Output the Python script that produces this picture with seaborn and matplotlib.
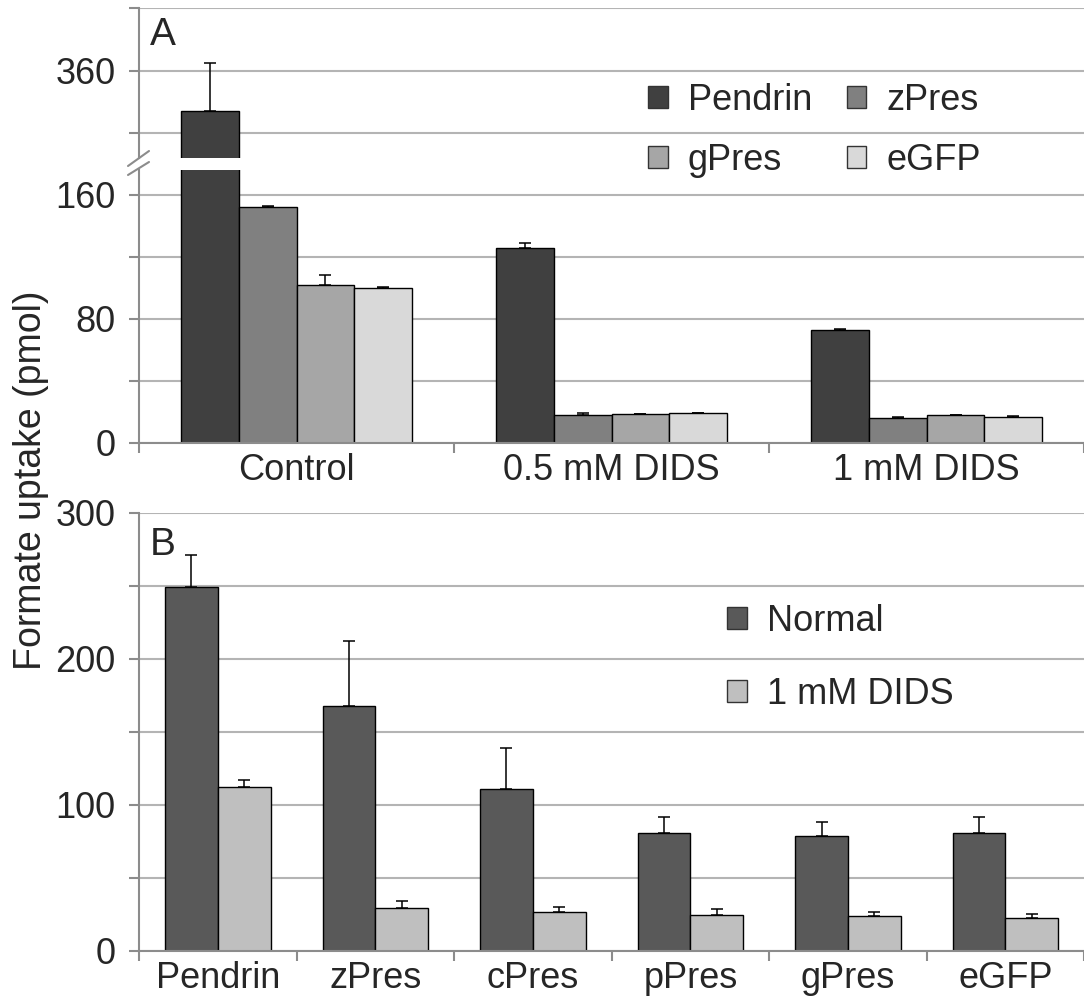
import matplotlib
matplotlib.use('Agg')
import matplotlib.pyplot as plt
from matplotlib.patches import Patch
from matplotlib.lines import Line2D
import pandas as pd
import seaborn as sns

# panel A
conditions_a = ['Control', '0.5 mM DIDS', '1 mM DIDS']
constructs_a = ['Pendrin', 'zPres', 'gPres', 'eGFP']
pendrin_a = [334, 126, 73]
zpres_a = [152, 18.2, 16.3]
gpres_a = [102, 18.7, 17.9]
egfp_a = [100, 19.4, 17.0]
pendrin_a_err = [31, 3, 0.5]
zpres_a_err = [0.8, 1.3, 0.5]
gpres_a_err = [6.5, 0.3, 0.3]
egfp_a_err = [0.5, 0.2, 0.2]

# panel B
constructs_b = ['Pendrin', 'zPres', 'cPres', 'pPres', 'gPres', 'eGFP']
treatments_b = ['Normal', '1 mM DIDS']
normal_b = [249, 168, 111, 81, 79, 81]
normal_b_err = [22, 44, 28, 11, 9.5, 11]
dids_b = [112, 29.5, 26.5, 25, 24, 22.6]
dids_b_err = [5, 5, 3.8, 3.6, 2.5, 2.5]

colors_a = {'Pendrin': '#404040', 'zPres': '#808080', 'gPres': '#a6a6a6', 'eGFP': '#d9d9d9'}
colors_b = {'Normal': '#595959', '1 mM DIDS': '#bfbfbf'}

vals_a = [pendrin_a, zpres_a, gpres_a, egfp_a]
errs_a = [pendrin_a_err, zpres_a_err, gpres_a_err, egfp_a_err]
df_a = pd.DataFrame([(c, k, v[i]) for k, v in zip(constructs_a, vals_a)
                     for i, c in enumerate(conditions_a)],
                    columns=['condition', 'construct', 'value'])
vals_b = [normal_b, dids_b]
errs_b = [normal_b_err, dids_b_err]
df_b = pd.DataFrame([(c, t, v[i]) for t, v in zip(treatments_b, vals_b)
                     for i, c in enumerate(constructs_b)],
                    columns=['construct', 'treatment', 'value'])

sns.set_style('white')
plt.rcParams['font.family'] = ['Liberation Sans', 'DejaVu Sans']
grey = '#8c8c8c'
fs = 26

fig = plt.figure(figsize=(10.84, 10), dpi=100)
ax_top = fig.add_axes([0.1282, 0.842, 0.872, 0.150])
ax_low = fig.add_axes([0.1282, 0.557, 0.872, 0.273])
ax_b = fig.add_axes([0.1282, 0.049, 0.872, 0.438])


def add_errors(ax, errs):
    for cont, err in zip(ax.containers, errs):
        xs = [b.get_x() + b.get_width() / 2 for b in cont]
        ys = [b.get_height() for b in cont]
        ax.errorbar(xs, ys, yerr=[[0] * len(err), err], fmt='none', ecolor='black',
                    elinewidth=1.1, capsize=4, capthick=1.1, zorder=3)


def style(ax):
    ax.set_axisbelow(True)
    ax.grid(axis='y', color='#b4b4b4', linewidth=1.5)
    for s in ['top', 'right']:
        ax.spines[s].set_visible(False)
    for s in ['left', 'bottom']:
        ax.spines[s].set_color(grey)
        ax.spines[s].set_linewidth(1.5)
    ax.tick_params(axis='y', direction='out', length=7, width=1.5, color=grey,
                   labelsize=fs, pad=10, left=True)
    ax.set_xlabel('')
    ax.set_ylabel('')


for ax in (ax_top, ax_low):
    sns.barplot(data=df_a, x='condition', y='value', hue='construct', order=conditions_a,
                hue_order=constructs_a, palette=colors_a, saturation=1, width=0.733,
                edgecolor='black', linewidth=1, legend=False, ax=ax)
    add_errors(ax, errs_a)
    style(ax)
    ax.set_xlim(-0.5, 2.5)

ax_top.set_ylim(304, 400)
ax_top.set_yticks([320, 360, 400], ['', '360', ''])
ax_top.spines['bottom'].set_visible(False)
ax_top.tick_params(axis='x', bottom=False, labelbottom=False)

ax_low.set_ylim(0, 176)
ax_low.set_yticks([0, 40, 80, 120, 160], ['0', '', '80', '', '160'])

sns.barplot(data=df_b, x='construct', y='value', hue='treatment', order=constructs_b,
            hue_order=treatments_b, palette=colors_b, saturation=1, width=0.67,
            edgecolor='black', linewidth=1, legend=False, ax=ax_b)
add_errors(ax_b, errs_b)
style(ax_b)
ax_b.set_xlim(-0.5, 5.5)
ax_b.set_ylim(0, 300)
ax_b.set_yticks([0, 50, 100, 150, 200, 250, 300], ['0', '', '100', '', '200', '', '300'])

for ax, n in ((ax_low, 3), (ax_b, 6)):
    ax.set_xticks([i - 0.5 for i in range(n + 1)], minor=True)
    ax.tick_params(axis='x', which='minor', direction='out', length=7, width=1.5,
                   color=grey, bottom=True)
    ax.tick_params(axis='x', which='major', length=0, labelsize=fs, pad=7)

# break marks on the y axis
for y0, y1 in ((0.834, 0.849), (0.825, 0.838)):
    fig.add_artist(Line2D([128 / 1084, 149 / 1084], [y0, y1], color=grey, linewidth=1.5))

# legend fills by column, so order gives rows Pendrin/zPres and gPres/eGFP
legend_a_order = ['Pendrin', 'gPres', 'zPres', 'eGFP']
fig.legend(handles=[Patch(facecolor=colors_a[k], edgecolor='#333333', label=k) for k in legend_a_order],
           ncol=2, loc='center left', bbox_to_anchor=(0.598, 0.8695), frameon=False,
           fontsize=fs, handlelength=0.55, handleheight=0.55, handletextpad=0.55,
           columnspacing=0.95, labelspacing=0.7, borderpad=0, borderaxespad=0)
fig.legend(handles=[Patch(facecolor=colors_b[k], edgecolor='#333333', label=k) for k in treatments_b],
           loc='center left', bbox_to_anchor=(0.671, 0.342), frameon=False,
           fontsize=fs, handlelength=0.55, handleheight=0.55, handletextpad=0.55,
           labelspacing=1.05, borderpad=0, borderaxespad=0)

fig.text(150 / 1084, 1 - 17 / 1000, 'A', fontsize=28, ha='left', va='top')
fig.text(150 / 1084, 1 - 527 / 1000, 'B', fontsize=28, ha='left', va='top')
fig.text(0.029, 0.52, 'Formate uptake (pmol)', fontsize=27, rotation=90, ha='center', va='center')

fig.savefig('out.png', dpi=100)
